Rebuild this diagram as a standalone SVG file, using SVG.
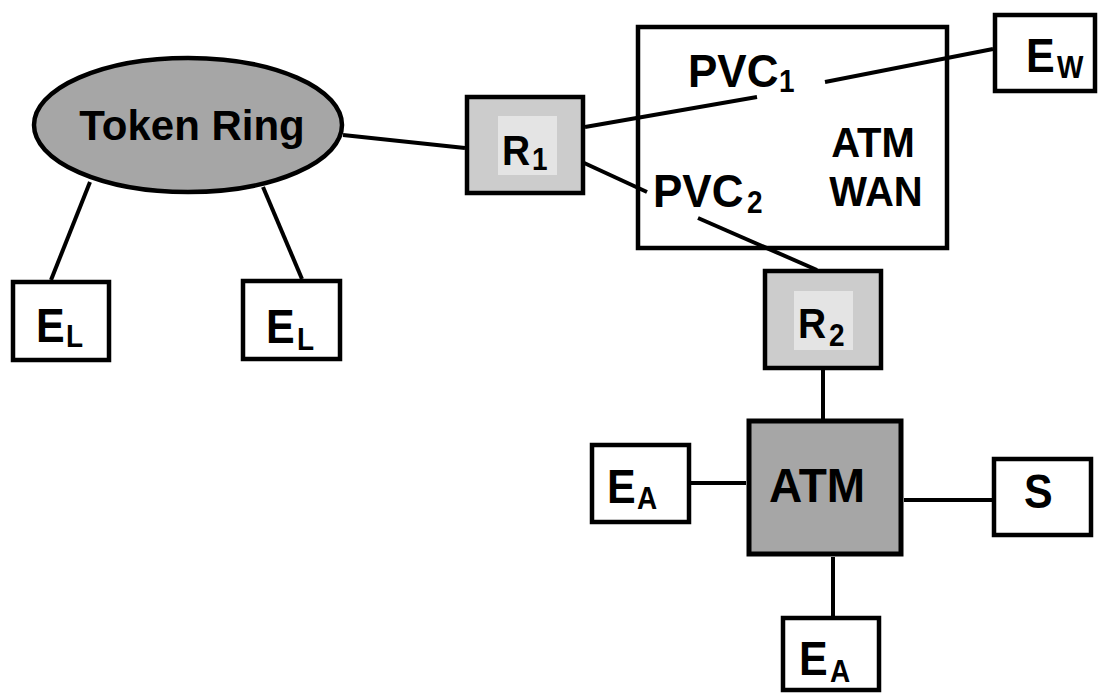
<svg xmlns="http://www.w3.org/2000/svg" width="1101" height="693" viewBox="0 0 1101 693">
<style>
.ln{stroke:#000;stroke-width:4;fill:none}
.box{fill:#fff;stroke:#000;stroke-width:4.5}
.frame{fill:none;stroke:#000;stroke-width:4.5}
.rt{fill:#cccccc;stroke:#000;stroke-width:4.5}
.hl{fill:#e4e4e4}
.dk{fill:#a6a6a6;stroke:#000;stroke-width:5}
.t{font-family:"Liberation Sans",Arial,sans-serif;font-weight:bold;fill:#000}
.big{font-size:43px}
.sub{font-size:28px}
</style>
<rect width="1101" height="693" fill="#fff"/>
<g id="connectors">
<line class="ln" x1="343" y1="135" x2="465" y2="148"/>
<line class="ln" x1="90" y1="182" x2="51" y2="280"/>
<line class="ln" x1="263" y1="187" x2="302" y2="279"/>
<line class="ln" x1="585" y1="127" x2="757" y2="97"/>
<line class="ln" x1="825" y1="82" x2="993" y2="49"/>
<line class="ln" x1="582" y1="162" x2="647" y2="192"/>
<line class="ln" x1="698" y1="218" x2="817" y2="270"/>
<line class="ln" x1="823" y1="370" x2="823" y2="420"/>
<line class="ln" x1="691" y1="483" x2="746" y2="483"/>
<line class="ln" x1="904" y1="500" x2="994" y2="500"/>
<line class="ln" x1="833" y1="557" x2="833" y2="617"/>
</g>
<g id="atmwan">
<rect class="frame" x="638" y="27" width="309" height="221"/>
<text class="t" font-size="40" transform="translate(873,157) scale(1,1.05)" text-anchor="middle">ATM</text>
<text class="t" font-size="40" transform="translate(876,206) scale(1,1.05)" text-anchor="middle">WAN</text>
</g>
<g id="pvc1">
<text class="t" font-size="44" transform="translate(688,87) scale(1,1.05)">PVC</text>
<text class="t sub" transform="translate(779,92) scale(1,1.1)">1</text>
</g>
<g id="pvc2">
<text class="t" font-size="44" transform="translate(653,207) scale(1,1.05)">PVC</text>
<text class="t sub" transform="translate(747,213) scale(1,1.1)">2</text>
</g>
<g id="tokenring">
<ellipse cx="188" cy="125" rx="154" ry="67" fill="#a6a6a6" stroke="#000" stroke-width="4.5"/>
<text class="t" font-size="42" x="192" y="140" text-anchor="middle">Token Ring</text>
</g>
<g id="el1">
<rect class="box" x="13" y="282" width="96" height="78"/>
<text class="t big" transform="translate(36,342) scale(1,1.12)">E</text>
<text class="t sub" transform="translate(66,347) scale(1,1.12)">L</text>
</g>
<g id="el2">
<rect class="box" x="243" y="281" width="97" height="78"/>
<text class="t big" transform="translate(266,343) scale(1,1.12)">E</text>
<text class="t sub" transform="translate(297,350) scale(1,1.12)">L</text>
</g>
<g id="r1">
<rect class="rt" x="467" y="97" width="116" height="96"/>
<rect class="hl" x="498" y="116" width="59" height="59"/>
<text class="t" font-size="39" transform="translate(502,165) scale(1,1.08)">R</text>
<text class="t" font-size="28" transform="translate(532,170) scale(1,1.1)">1</text>
</g>
<g id="ew">
<rect class="box" x="995" y="15" width="100" height="76"/>
<text class="t big" transform="translate(1026,72) scale(1,1.1)">E</text>
<text class="t" font-size="28" transform="translate(1057,78) scale(1,1.1)">W</text>
</g>
<g id="r2">
<rect class="rt" x="765" y="271" width="116" height="97"/>
<rect class="hl" x="794" y="291" width="59" height="59"/>
<text class="t" font-size="39" transform="translate(798,338) scale(1,1.08)">R</text>
<text class="t" font-size="28" transform="translate(829,346) scale(1,1.1)">2</text>
</g>
<g id="atm">
<rect class="dk" x="749" y="421" width="152" height="133"/>
<text class="t" font-size="46" transform="translate(817,502) scale(1,1.05)" text-anchor="middle">ATM</text>
</g>
<g id="ea1">
<rect class="box" x="592" y="445" width="97" height="77"/>
<text class="t big" transform="translate(607,503) scale(1,1.1)">E</text>
<text class="t sub" transform="translate(637,509) scale(1,1.1)">A</text>
</g>
<g id="s">
<rect class="box" x="994" y="459" width="97" height="76"/>
<text class="t big" transform="translate(1024,508) scale(1,1.1)">S</text>
</g>
<g id="ea2">
<rect class="box" x="783" y="618" width="96" height="72"/>
<text class="t big" transform="translate(799,675) scale(1,1.1)">E</text>
<text class="t sub" transform="translate(830,682) scale(1,1.1)">A</text>
</g>
</svg>
